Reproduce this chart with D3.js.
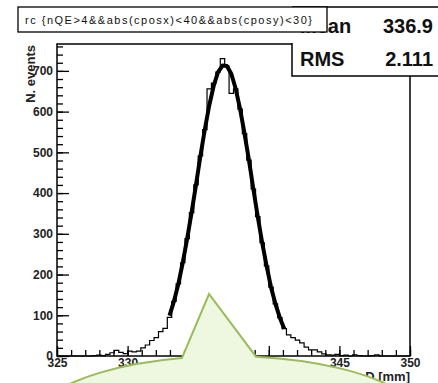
<!DOCTYPE html>
<html>
<head>
<meta charset="utf-8">
<script src="https://cdn.jsdelivr.net/npm/d3@7"></script>
<style>
  body { margin: 0; background: #fff; }
  svg { display: block; font-family: "Liberation Sans", Arial, sans-serif; }
  .tick text { font-size: 12px; font-weight: bold; fill: #222; }
</style>
</head>
<body>
<script>
// histogram range and binning
var xRange = [325, 350],
    binWidth = 0.3125;

// entries per bin (80 bins)
var counts = [
    0, 0, 0, 0, 0, 0, 0, 0, 1, 2,
    1, 4, 8, 14, 9, 6, 12, 10, 12, 20,
    27, 38, 45, 60, 68, 95, 134, 177, 229, 288,
    352, 420, 491, 556, 656, 670, 697, 730, 712, 645,
    656, 606, 546, 481, 410, 342, 278, 221, 169, 128,
    94, 67, 52, 45, 39, 32, 22, 15, 15, 10,
    5, 3, 2, 4, 1, 2, 0, 3, 1, 0,
    0, 1, 3, 0, 0, 0, 0, 0, 0, 0
];

// thick (fitted) line over the core bins, one value per bin centre
var fitFirstBin = 25;
var fitCounts = [
    99, 134, 177, 229, 288, 352, 420, 491, 556, 615,
    663, 697, 713, 712, 693, 656, 606, 546, 481, 410,
    342, 278, 221, 169, 128, 94, 67
];

var yMax = 766;
var yMajor = [0, 100, 200, 300, 400, 500, 600, 700],
    xMajor = [325, 330, 335, 340, 345, 350];

var titleText = "rc  {nQE>4&&abs(cposx)<40&&abs(cposy)<30}";
var statsRows = [["Mean", "336.9"], ["RMS", "2.111"]];

drawChart();

function drawChart(){

    var width = 438,
        height = 383;

    // frame of the pad
    var left = 57, right = 410, top = 44, bottom = 356;

    var svg = d3.select("body")
        .append("svg")
        .attr("width", width)
        .attr("height", height);

    svg.append("rect")
        .attr("width", width)
        .attr("height", height)
        .attr("fill", "#fff");

    var x = d3.scaleLinear().domain(xRange).range([left, right]);
    var y = d3.scaleLinear().domain([0, yMax]).range([bottom, top]);

    // y axis: major + minor ticks pointing inside the frame
    svg.append("g")
        .attr("transform", "translate(" + left + ",0)")
        .call(d3.axisLeft(y).tickValues(d3.range(0, yMax, 20)).tickSize(-6).tickFormat(""))
        .call(function(g){ g.select(".domain").remove(); });

    svg.append("g")
        .attr("transform", "translate(" + left + ",0)")
        .call(d3.axisLeft(y).tickValues(yMajor).tickSize(-12).tickPadding(4).tickFormat(d3.format("d")))
        .call(function(g){ g.select(".domain").remove(); });

    // x axis
    svg.append("g")
        .attr("transform", "translate(0," + bottom + ")")
        .call(d3.axisBottom(x).tickValues(d3.range(325, 351, 1)).tickSize(-6).tickFormat(""))
        .call(function(g){ g.select(".domain").remove(); });

    svg.append("g")
        .attr("transform", "translate(0," + bottom + ")")
        .call(d3.axisBottom(x).tickValues(xMajor).tickSize(-10).tickPadding(2).tickFormat(d3.format("d")))
        .call(function(g){ g.select(".domain").remove(); });

    svg.selectAll(".tick line")
        .attr("stroke", "#000")
        .attr("stroke-width", 1.3);

    // histogram outline as steps
    var stepLine = d3.line()
        .x(function(d){ return x(d[0]); })
        .y(function(d){ return y(d[1]); })
        .curve(d3.curveStepAfter);

    var histPts = counts.map(function(v, i){
        return [xRange[0] + i * binWidth, v];
    });
    histPts.push([xRange[1], counts[counts.length - 1]]);

    svg.append("path")
        .datum(histPts)
        .attr("fill", "none")
        .attr("stroke", "#000")
        .attr("stroke-width", 1.2)
        .attr("d", stepLine);

    // thick line through bin centres
    var fitLine = d3.line()
        .x(function(d){ return x(d[0]); })
        .y(function(d){ return y(d[1]); });

    var fitPts = fitCounts.map(function(v, i){
        return [xRange[0] + (fitFirstBin + i + 0.5) * binWidth, v];
    });

    svg.append("path")
        .datum(fitPts)
        .attr("fill", "none")
        .attr("stroke", "#000")
        .attr("stroke-width", 4)
        .attr("stroke-linejoin", "round")
        .attr("d", fitLine);

    // frame
    svg.append("rect")
        .attr("x", left)
        .attr("y", top)
        .attr("width", right - left)
        .attr("height", bottom - top)
        .attr("fill", "none")
        .attr("stroke", "#000")
        .attr("stroke-width", 1.5);

    // axis titles
    svg.append("text")
        .attr("transform", "translate(35," + (top + 1) + ") rotate(-90)")
        .attr("text-anchor", "end")
        .attr("font-size", 13)
        .attr("font-weight", "bold")
        .attr("fill", "#222")
        .text("N. events");

    svg.append("text")
        .attr("x", right)
        .attr("y", 381)
        .attr("text-anchor", "end")
        .attr("font-size", 13)
        .attr("font-weight", "bold")
        .attr("fill", "#222")
        .text("D [mm]");

    // stats box
    var sx = 292;
    svg.append("rect")
        .attr("x", sx)
        .attr("y", 7)
        .attr("width", width - sx + 5)
        .attr("height", 69)
        .attr("fill", "#fff");

    svg.append("path")
        .attr("d", "M" + sx + ",7H" + (width + 2) + "M" + sx + ",43V76H" + (width + 2))
        .attr("fill", "none")
        .attr("stroke", "#000")
        .attr("stroke-width", 1.5);

    statsRows.forEach(function(r, i){
        var by = 33 + i * 33;
        svg.append("text")
            .attr("x", 300)
            .attr("y", by)
            .attr("font-size", 20)
            .attr("font-weight", "bold")
            .attr("fill", "#111")
            .text(r[0]);
        svg.append("text")
            .attr("x", 433)
            .attr("y", by)
            .attr("text-anchor", "end")
            .attr("font-size", 20)
            .attr("font-weight", "bold")
            .attr("fill", "#111")
            .text(r[1]);
    });

    // title box (drawn over the stats box)
    svg.append("rect")
        .attr("x", 18)
        .attr("y", 7)
        .attr("width", 309)
        .attr("height", 25)
        .attr("fill", "#fff")
        .attr("stroke", "#000")
        .attr("stroke-width", 1.3);

    svg.append("text")
        .attr("x", 25)
        .attr("y", 24)
        .attr("font-size", 11)
        .attr("textLength", 287)
        .attr("lengthAdjust", "spacing")
        .attr("fill", "#111")
        .text(titleText);

    // green callout bubble over the bottom of the chart
    var cx = 228, cy = 428, rx = 200, ry = 72;
    function onEllipse(px){
        var t = (px - cx) / rx;
        return [px, cy - ry * Math.sqrt(1 - t * t)];
    }
    var bl = onEllipse(182), br = onEllipse(256);
    svg.append("path")
        .attr("d", "M" + bl[0] + "," + bl[1] +
            "L209,294L" + br[0] + "," + br[1] +
            "A" + rx + "," + ry + " 0 1 1 " + bl[0] + "," + bl[1] + "Z")
        .attr("fill", "#eef7df")
        .attr("stroke", "#9bbb59")
        .attr("stroke-width", 2);
}
</script>
</body>
</html>
